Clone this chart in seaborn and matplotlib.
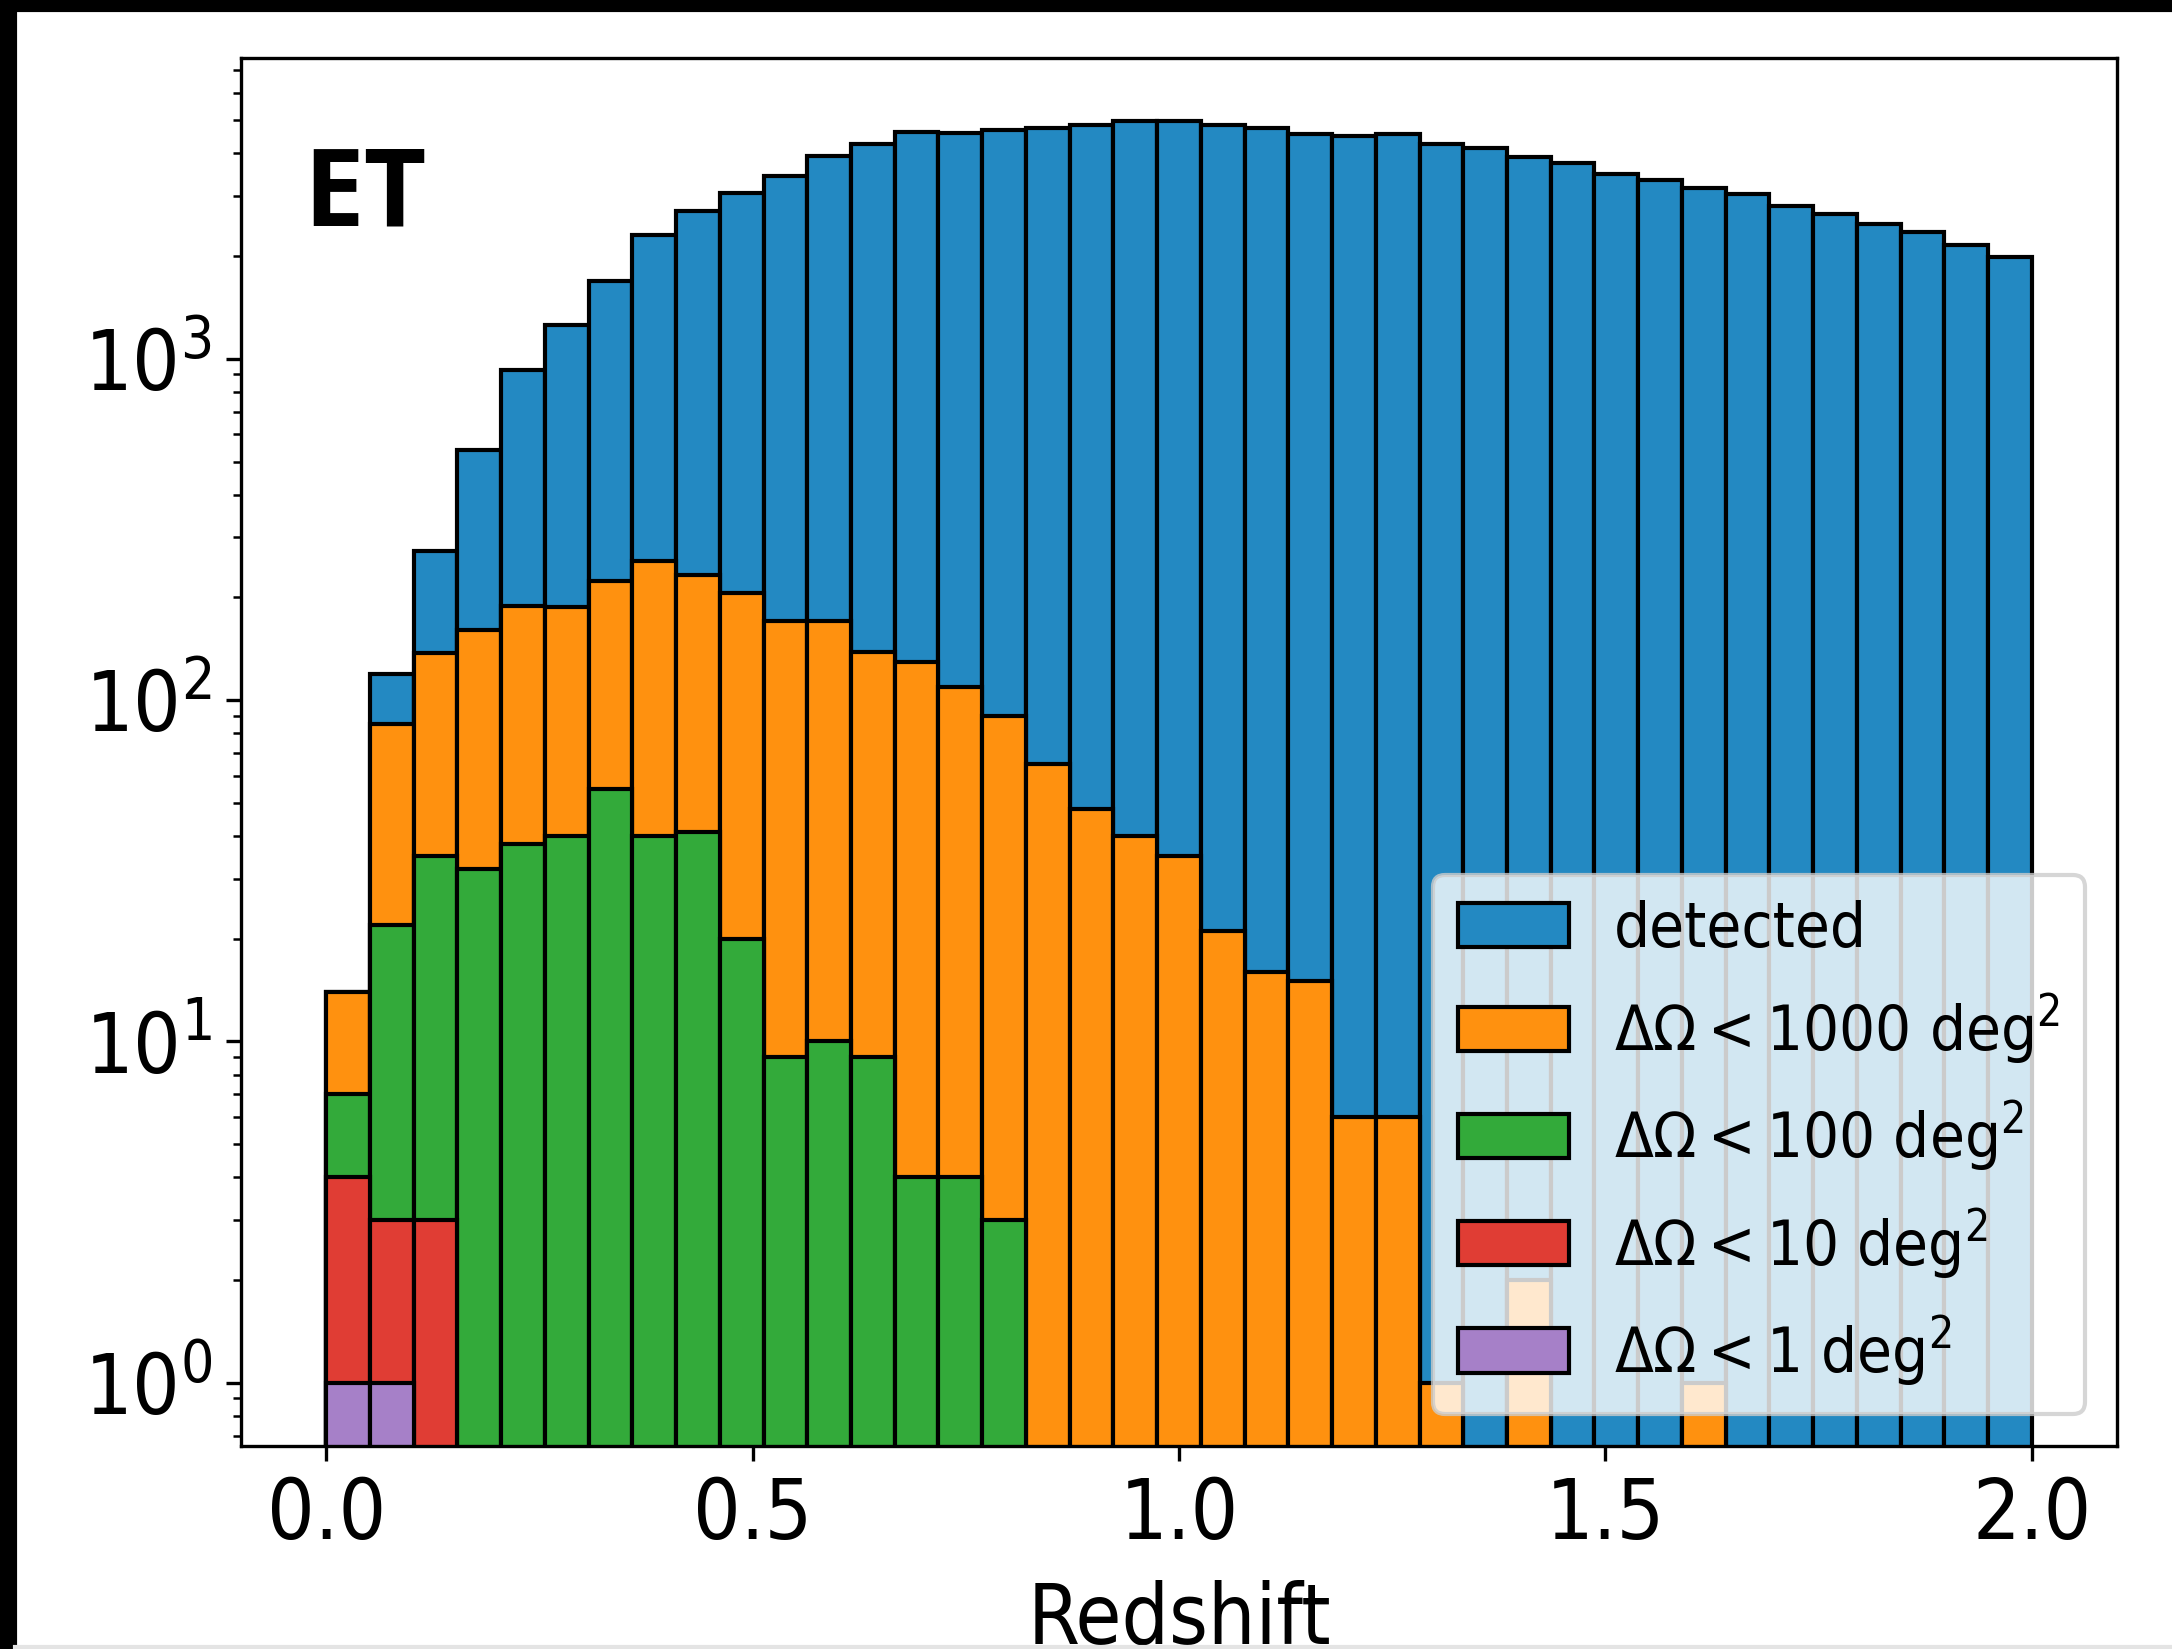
import numpy as np
import pandas as pd
import matplotlib
matplotlib.use("Agg")
import matplotlib.pyplot as plt
import seaborn as sns
from matplotlib.patches import Rectangle
from matplotlib import font_manager

# redshift bins (39 equal bins from 0 to 2)
bin_edges = np.linspace(0.0, 2.0, 40)
bin_centers = 0.5 * (bin_edges[:-1] + bin_edges[1:])

# counts per bin
detected = [14, 119, 274, 541, 927, 1256, 1688, 2301, 2705, 3063, 3423, 3916, 4268,
            4617, 4594, 4687, 4750, 4852, 4970, 4970, 4852, 4750, 4560, 4480, 4560,
            4250, 4140, 3900, 3744, 3484, 3331, 3171, 3045, 2797, 2661, 2476, 2351,
            2151, 1985]
lt_1000 = [14, 85, 137, 161, 189, 188, 223, 255, 232, 206, 171, 170, 138, 129, 109,
           90, 65, 48, 40, 35, 21, 16, 15, 6, 6, 1, 0, 2, 0, 0, 0, 1, 0, 0, 0, 0, 0,
           0, 0]
lt_100 = [7, 22, 35, 32, 38, 40, 55, 40, 41, 20, 9, 10, 9, 4, 4, 3] + [0] * 23
lt_10 = [4, 3, 3] + [0] * 36
lt_1 = [1, 1] + [0] * 37

series = [
    ("detected", detected, "#2389c2"),
    (r"$\Delta\Omega < 1000$ deg$^2$", lt_1000, "#ff910f"),
    (r"$\Delta\Omega < 100$ deg$^2$", lt_100, "#33aa3a"),
    (r"$\Delta\Omega < 10$ deg$^2$", lt_10, "#e03d34"),
    (r"$\Delta\Omega < 1$ deg$^2$", lt_1, "#a680c8"),
]

sns.set_theme(style="ticks")
plt.rcParams["font.family"] = ["DejaVu Sans"]

# the reference text looks horizontally squeezed: use the condensed cut if present
condensed = any("Condensed" in f.name or f.stretch == "condensed"
                for f in font_manager.fontManager.ttflist if "DejaVu Sans" in f.name)
if condensed:
    plt.rcParams["font.stretch"] = "condensed"
    plt.rcParams["mathtext.fontset"] = "custom"
    plt.rcParams["mathtext.rm"] = "DejaVu Sans:stretch=condensed"
    plt.rcParams["mathtext.it"] = "DejaVu Sans:italic:stretch=condensed"
    plt.rcParams["mathtext.bf"] = "DejaVu Sans:bold:stretch=condensed"
else:
    plt.rcParams["mathtext.fontset"] = "dejavusans"

plt.rcParams.update({
    "text.color": "black",
    "axes.labelcolor": "black",
    "axes.edgecolor": "black",
    "axes.linewidth": 0.8,
    "xtick.color": "black",
    "ytick.color": "black",
    "xtick.labelsize": 20,
    "ytick.labelsize": 20,
    "xtick.major.size": 3.5,
    "ytick.major.size": 3.5,
    "ytick.minor.size": 2,
    "xtick.major.width": 0.8,
    "ytick.major.width": 0.8,
    "ytick.minor.width": 0.6,
})

fig = plt.figure(figsize=(7.24, 5.4967), dpi=300)
ax = fig.add_axes([0.11096, 0.12310, 0.86372, 0.84172])

for label, counts, color in series:
    df = pd.DataFrame({"z": bin_centers, "n": counts})
    sns.histplot(data=df, x="z", weights="n", bins=list(bin_edges), color=color,
                 edgecolor="black", linewidth=1.0, alpha=1, label=label, ax=ax)

ax.set_yscale("log")
ax.set_xlim(-0.1, 2.1)
ax.set_ylim(10 ** -0.185, 10 ** 3.881)
ax.set_xticks([0.0, 0.5, 1.0, 1.5, 2.0])
ax.set_ylabel("")
ax.set_xlabel("Redshift", fontsize=20)
ax.xaxis.set_label_coords(0.5, -0.0965)

ax.text(0.033, 0.879, "ET", transform=ax.transAxes, fontsize=26, color="black",
        fontweight="bold", family="Open Sans", fontstretch="normal", va="baseline")

ax.legend(loc="lower right", fontsize=15.2, frameon=True, framealpha=0.8,
          edgecolor="0.8", fancybox=True, handlelength=1.76, handletextpad=0.7)

# black strips along the top and left edge of the original image
fig.add_artist(Rectangle((0, 1 - 10 / 1649), 1, 10 / 1649, transform=fig.transFigure,
                         color="black", zorder=10))
fig.add_artist(Rectangle((0, 0), 15 / 2172, 1, transform=fig.transFigure,
                         color="black", zorder=10))
fig.add_artist(Rectangle((15 / 2172, 0), 1, 2 / 1649, transform=fig.transFigure,
                         color="#e4e4e4", zorder=10))

fig.savefig("out.png", dpi=300)
